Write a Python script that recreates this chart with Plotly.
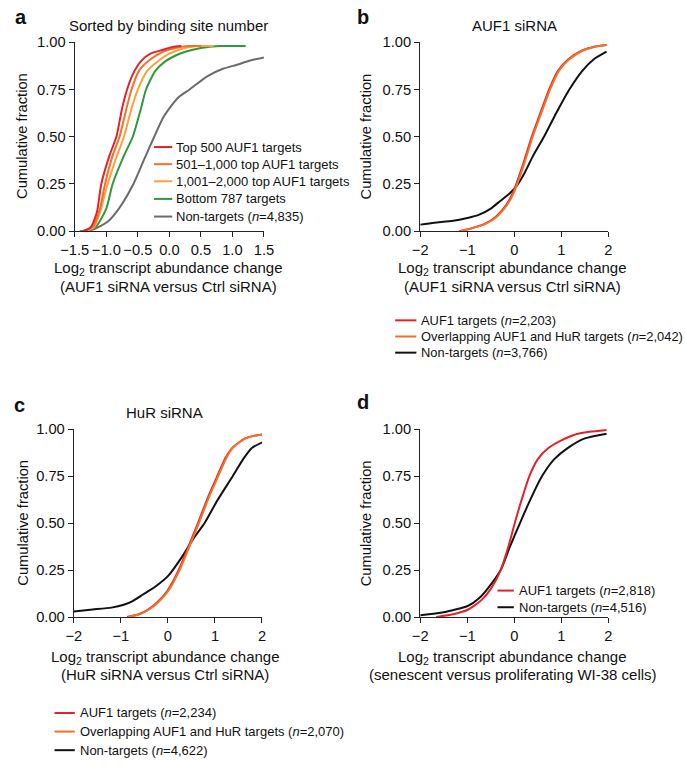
import plotly.graph_objects as go

W, H = 685, 767

# ---------------- data ----------------
# Panel a: sorted by binding site number (AUF1 siRNA vs Ctrl siRNA)
a_names = ["Top 500 AUF1 targets", "501\u20131,000 top AUF1 targets",
           "1,001\u20132,000 top AUF1 targets", "Bottom 787 targets",
           "Non-targets (<i>n</i>=4,835)"]
a_top500_x = [-1.38, -1.25, -1.15, -1.08, -0.95, -0.84, -0.75, -0.67, -0.58, -0.45, -0.30, -0.10, 0.05, 0.19]
a_top500_y = [0.0, 0.02, 0.10, 0.25, 0.40, 0.50, 0.65, 0.75, 0.83, 0.90, 0.94, 0.96, 0.975, 0.98]
a_501_x = [-1.35, -1.20, -1.10, -1.02, -0.90, -0.79, -0.68, -0.60, -0.48, -0.30, -0.10, 0.10, 0.30, 0.50]
a_501_y = [0.0, 0.03, 0.12, 0.25, 0.40, 0.50, 0.65, 0.75, 0.85, 0.91, 0.95, 0.97, 0.98, 0.98]
a_1001_x = [-1.35, -1.20, -1.10, -0.98, -0.83, -0.72, -0.60, -0.50, -0.35, -0.18, 0.0, 0.25, 0.50, 0.70]
a_1001_y = [0.0, 0.02, 0.10, 0.25, 0.40, 0.50, 0.65, 0.75, 0.85, 0.90, 0.94, 0.97, 0.98, 0.98]
a_bottom_x = [-1.30, -1.15, -1.0, -0.90, -0.72, -0.58, -0.45, -0.37, -0.22, -0.06, 0.10, 0.25, 0.50, 0.80, 1.21]
a_bottom_y = [0.0, 0.03, 0.12, 0.25, 0.40, 0.50, 0.65, 0.75, 0.85, 0.90, 0.93, 0.95, 0.97, 0.98, 0.98]
a_non_x = [-1.42, -1.20, -0.98, -0.80, -0.57, -0.40, -0.24, -0.10, 0.0, 0.15, 0.32, 0.60, 0.85, 1.06, 1.30, 1.50]
a_non_y = [0.0, 0.01, 0.05, 0.12, 0.25, 0.38, 0.50, 0.60, 0.65, 0.71, 0.75, 0.82, 0.86, 0.88, 0.905, 0.92]

# Panel b: AUF1 siRNA
b_names = ["AUF1 targets (<i>n</i>=2,203)", "Overlapping AUF1 and HuR targets (<i>n</i>=2,042)",
           "Non-targets (<i>n</i>=3,766)"]
b_auf1_x = [-1.17, -0.92, -0.62, -0.38, -0.17, -0.02, 0.18, 0.37, 0.56, 0.74, 0.93, 1.15, 1.43, 1.68, 1.96]
b_auf1_y = [0.0, 0.015, 0.04, 0.08, 0.14, 0.21, 0.35, 0.50, 0.63, 0.75, 0.85, 0.91, 0.955, 0.975, 0.985]
b_over_x = [-1.15, -0.90, -0.60, -0.36, -0.15, 0.0, 0.20, 0.39, 0.58, 0.76, 0.95, 1.17, 1.45, 1.70, 1.96]
b_over_y = [0.0, 0.015, 0.04, 0.08, 0.14, 0.21, 0.35, 0.50, 0.63, 0.75, 0.85, 0.91, 0.955, 0.975, 0.985]
b_non_x = [-2.0, -1.7, -1.3, -1.0, -0.77, -0.5, -0.3, -0.1, 0.05, 0.2, 0.4, 0.63, 0.9, 1.17, 1.45, 1.69, 1.96]
b_non_y = [0.035, 0.045, 0.055, 0.07, 0.085, 0.12, 0.16, 0.20, 0.24, 0.30, 0.40, 0.50, 0.63, 0.75, 0.85, 0.91, 0.95]

# Panel c: HuR siRNA
c_names = ["AUF1 targets (<i>n</i>=2,234)", "Overlapping AUF1 and HuR targets (<i>n</i>=2,070)",
           "Non-targets (<i>n</i>=4,622)"]
c_auf1_x = [-0.87, -0.62, -0.42, -0.22, -0.01, 0.23, 0.43, 0.64, 0.84, 1.05, 1.23, 1.37, 1.64, 1.85, 2.1]
c_auf1_y = [0.0, 0.015, 0.04, 0.08, 0.14, 0.25, 0.37, 0.50, 0.63, 0.75, 0.85, 0.90, 0.95, 0.965, 0.975]
c_over_x = [-0.85, -0.60, -0.40, -0.20, 0.01, 0.25, 0.45, 0.66, 0.86, 1.07, 1.25, 1.38, 1.65, 1.85, 2.1]
c_over_y = [0.0, 0.015, 0.04, 0.08, 0.14, 0.25, 0.37, 0.50, 0.63, 0.75, 0.85, 0.90, 0.95, 0.965, 0.975]
c_non_x = [-2.0, -1.6, -1.2, -0.94, -0.75, -0.53, -0.25, 0.01, 0.3, 0.55, 0.78, 1.05, 1.38, 1.6, 1.79, 2.1]
c_non_y = [0.03, 0.04, 0.05, 0.065, 0.085, 0.12, 0.165, 0.22, 0.32, 0.42, 0.50, 0.62, 0.75, 0.84, 0.90, 0.94]

# Panel d: senescent vs proliferating WI-38 cells
d_names = ["AUF1 targets (<i>n</i>=2,818)", "Non-targets (<i>n</i>=4,516)"]
d_auf1_x = [-1.66, -1.3, -0.98, -0.7, -0.5, -0.29, -0.12, 0.01, 0.15, 0.32, 0.5, 0.73, 1.0, 1.28, 1.6, 1.96]
d_auf1_y = [0.0, 0.015, 0.04, 0.09, 0.15, 0.25, 0.38, 0.50, 0.62, 0.75, 0.84, 0.90, 0.94, 0.97, 0.985, 0.995]
d_non_x = [-2.0, -1.5, -0.98, -0.75, -0.57, -0.29, -0.1, 0.12, 0.35, 0.59, 0.85, 1.14, 1.5, 1.96]
d_non_y = [0.01, 0.025, 0.06, 0.10, 0.15, 0.25, 0.37, 0.50, 0.63, 0.75, 0.84, 0.90, 0.95, 0.975]

y_ticks = [0, 0.25, 0.5, 0.75, 1.0]
a_x_ticks = [-1.5, -1.0, -0.5, 0.0, 0.5, 1.0, 1.5]
bcd_x_ticks = [-2, -1, 0, 1, 2]

RED = "#e3232a"
ORANGE = "#f2722a"
LORANGE = "#f9a23e"
GREEN = "#2e9a3a"
GRAY = "#6b6b6b"
BLACK = "#111111"
FONT = "Liberation Sans, Arial, sans-serif"


def px_x(p):
    return p / W


def px_y(p):
    return 1 - p / H


fig = go.Figure()

# axes domains (pixel-based layout)
panels = {
    "a": dict(x0=63, x1=259, y0=35, y1=228, xr=[-1.5, 1.5], xt=a_x_ticks, xf=".1f"),
    "b": dict(x0=421, x1=616, y0=35, y1=228, xr=[-2, 2], xt=bcd_x_ticks, xf="d"),
    "c": dict(x0=62, x1=257, y0=430, y1=622, xr=[-2, 2], xt=bcd_x_ticks, xf="d"),
    "d": dict(x0=421, x1=616, y0=430, y1=622, xr=[-2, 2], xt=bcd_x_ticks, xf="d"),
}
axis_ids = {"a": ("x", "y", "xaxis", "yaxis"), "b": ("x2", "y2", "xaxis2", "yaxis2"),
            "c": ("x3", "y3", "xaxis3", "yaxis3"), "d": ("x4", "y4", "xaxis4", "yaxis4")}

TICKFONT = dict(size=14.7, color="#111", family=FONT)
layout_axes = {}
for k, p in panels.items():
    xa, ya, xkey, ykey = axis_ids[k]
    common = dict(showgrid=False, zeroline=False, showline=True, linecolor="#222", linewidth=1.3,
                  ticks="outside", ticklen=5, tickcolor="#222", tickwidth=1.3, tickfont=TICKFONT)
    layout_axes[xkey] = dict(domain=[px_x(p["x0"]), px_x(p["x1"])], range=p["xr"], anchor=ya,
                             tickvals=p["xt"], tickformat=p["xf"], **common)
    layout_axes[ykey] = dict(domain=[px_y(p["y1"]), px_y(p["y0"])], range=[0, 1], anchor=xa,
                             tickvals=y_ticks, tickformat=".2f", **common)


def add(x, y, color, name, xa, ya):
    fig.add_trace(go.Scatter(x=x, y=y, mode="lines", name=name, xaxis=xa, yaxis=ya,
                             line=dict(color=color, width=2, shape="spline", smoothing=0.6),
                             showlegend=False, hoverinfo="skip"))


# panel a (gray first so coloured lines lie on top)
add(a_non_x, a_non_y, GRAY, a_names[4], "x", "y")
add(a_bottom_x, a_bottom_y, GREEN, a_names[3], "x", "y")
add(a_1001_x, a_1001_y, LORANGE, a_names[2], "x", "y")
add(a_501_x, a_501_y, ORANGE, a_names[1], "x", "y")
add(a_top500_x, a_top500_y, RED, a_names[0], "x", "y")
# panel b
add(b_non_x, b_non_y, BLACK, b_names[2], "x2", "y2")
add(b_auf1_x, b_auf1_y, RED, b_names[0], "x2", "y2")
add(b_over_x, b_over_y, ORANGE, b_names[1], "x2", "y2")
# panel c
add(c_non_x, c_non_y, BLACK, c_names[2], "x3", "y3")
add(c_auf1_x, c_auf1_y, RED, c_names[0], "x3", "y3")
add(c_over_x, c_over_y, ORANGE, c_names[1], "x3", "y3")
# panel d
add(d_non_x, d_non_y, BLACK, d_names[1], "x4", "y4")
add(d_auf1_x, d_auf1_y, RED, d_names[0], "x4", "y4")

annotations = []
shapes = []


def ann(text, x, y, size=15, bold=False, angle=0, xanchor="center"):
    annotations.append(dict(text=("<b>%s</b>" % text) if bold else text, x=px_x(x), y=px_y(y),
                            xref="paper", yref="paper", showarrow=False, textangle=angle,
                            xanchor=xanchor, yanchor="middle",
                            font=dict(size=size, family=FONT, color="#111")))


def legend(names, colors, x_line0, x_line1, x_text, rows, size=13):
    for name, col, ry in zip(names, colors, rows):
        shapes.append(dict(type="line", xref="paper", yref="paper",
                           x0=px_x(x_line0), x1=px_x(x_line1), y0=px_y(ry), y1=px_y(ry),
                           line=dict(color=col, width=2)))
        ann(name, x_text, ry, size=size, xanchor="left")


# legends (manual, short keys as in the reference)
legend(a_names, [RED, ORANGE, LORANGE, GREEN, GRAY], 145, 164, 165.5, [142, 159.5, 177, 195, 213])
legend(b_names, [RED, ORANGE, BLACK], 395, 417, 419.5, [319, 335.5, 352], size=12.9)
legend(c_names, [RED, ORANGE, BLACK], 42, 63, 66.5, [720, 739, 758])
legend(d_names, [RED, BLACK], 501, 518, 521, [595, 612])

# panel letters
ann("a", 7, 9, size=20, bold=True)
ann("b", 362, 9, size=20, bold=True)
ann("c", 6, 405, size=20, bold=True)
ann("d", 362, 402, size=20, bold=True)
# panel titles
ann("Sorted by binding site number", 160, 18)
ann("AUF1 siRNA", 519, 18)
ann("HuR siRNA", 156, 413)
# y titles
ann("Cumulative fraction", 9, 131, size=14.7, angle=-90)
ann("Cumulative fraction", 365, 131, size=14.7, angle=-90)
ann("Cumulative fraction", 9, 526, size=14.7, angle=-90)
ann("Cumulative fraction", 365, 526, size=14.7, angle=-90)
# x titles
ann("Log<sub>2</sub> transcript abundance change", 160, 266)
ann("(AUF1 siRNA versus Ctrl siRNA)", 160, 284)
ann("Log<sub>2</sub> transcript abundance change", 517, 266)
ann("(AUF1 siRNA versus Ctrl siRNA)", 517, 284)
ann("Log<sub>2</sub> transcript abundance change", 157, 663)
ann("(HuR siRNA versus Ctrl siRNA)", 157, 681)
ann("Log<sub>2</sub> transcript abundance change", 517, 663)
ann("(senescent versus proliferating WI-38 cells)", 517, 681)

fig.update_layout(
    width=W, height=H, margin=dict(l=0, r=0, t=0, b=0),
    paper_bgcolor="white", plot_bgcolor="white",
    font=dict(family=FONT, size=15, color="#111"),
    showlegend=False,
    annotations=annotations,
    shapes=shapes,
    **layout_axes,
)

# remove the browser's default 8px page margin so the figure sits at the window's corner
fig.write_html("out.html", config={"displayModeBar": False},
               post_script="document.body.style.margin='0';")
